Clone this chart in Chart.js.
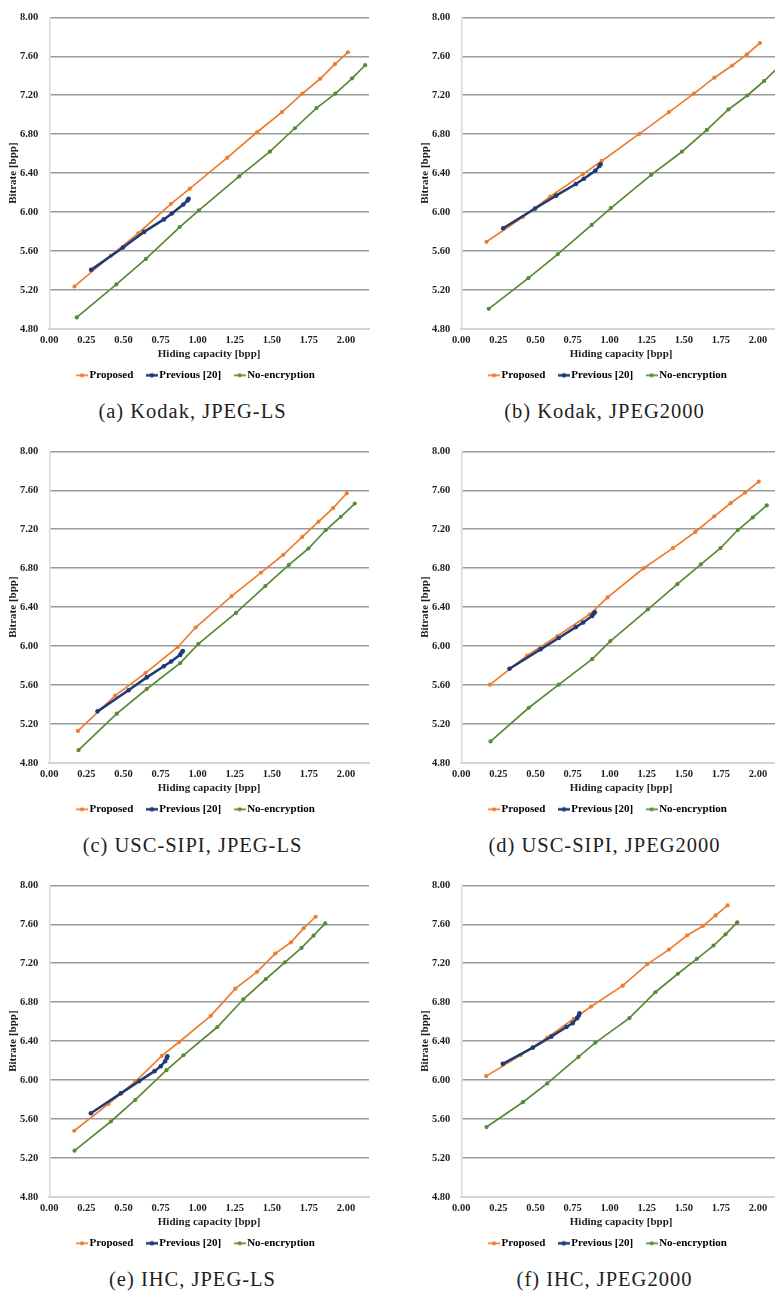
<!DOCTYPE html>
<html><head><meta charset="utf-8">
<script src="https://cdn.jsdelivr.net/npm/chart.js@4.4.0/dist/chart.umd.min.js"></script>
<style>
html,body{margin:0;padding:0;background:#fff;}
body{width:775px;height:1291px;overflow:hidden;position:relative;}
.panel{position:absolute;width:385px;height:391px;}
.cap{position:absolute;width:385px;text-align:center;font-family:'Liberation Serif','Times New Roman',serif;font-size:20.5px;letter-spacing:1px;color:#1e1e1e;line-height:24px;white-space:nowrap;}
</style></head><body>
<script>
// ---- tick labels ----
const xTickValues = [0, 0.25, 0.5, 0.75, 1.0, 1.25, 1.5, 1.75, 2.0];
const yTickValues = [4.8, 5.2, 5.6, 6.0, 6.4, 6.8, 7.2, 7.6, 8.0];
const seriesNames = ['Proposed', 'Previous [20]', 'No-encryption'];

// ---- hiding capacity [bpp] (x) ----
const kodakCapProposed = [0.17, 0.415, 0.60, 0.82, 0.947, 1.20, 1.40, 1.568, 1.706, 1.826, 1.925, 2.013];
const kodakCapPrevious = [0.282, 0.497, 0.639, 0.772, 0.826, 0.903, 0.932, 0.939];
const kodakCapNoEnc    = [0.185, 0.452, 0.651, 0.879, 1.008, 1.28, 1.487, 1.655, 1.801, 1.928, 2.041, 2.129];

const uscCapProposed = [0.193, 0.444, 0.648, 0.866, 0.986, 1.229, 1.427, 1.577, 1.705, 1.815, 1.913, 2.005];
const uscCapPrevious = [0.325, 0.534, 0.657, 0.772, 0.821, 0.882, 0.893, 0.900];
const uscCapNoEnc    = [0.197, 0.455, 0.657, 0.882, 1.005, 1.258, 1.456, 1.615, 1.747, 1.864, 1.965, 2.059];

const ihcCapProposed = [0.168, 0.399, 0.579, 0.758, 0.875, 1.088, 1.254, 1.400, 1.523, 1.629, 1.714, 1.795];
const ihcCapPrevious = [0.280, 0.482, 0.606, 0.709, 0.751, 0.781, 0.792, 0.796];
const ihcCapNoEnc    = [0.170, 0.415, 0.579, 0.790, 0.904, 1.133, 1.308, 1.460, 1.588, 1.700, 1.781, 1.860];

// ---- bitrate [bpp] (y) ----
const kodakLsProposed = [5.237, 5.553, 5.783, 6.085, 6.241, 6.559, 6.820, 7.027, 7.217, 7.369, 7.519, 7.641];
const kodakLsPrevious = [5.407, 5.637, 5.797, 5.925, 5.986, 6.078, 6.119, 6.136];
const kodakLsNoEnc    = [4.919, 5.258, 5.519, 5.847, 6.017, 6.366, 6.620, 6.861, 7.068, 7.217, 7.373, 7.508];

const kodakJ2kProposed = [5.695, 5.95, 6.16, 6.390, 6.525, 6.803, 7.027, 7.217, 7.380, 7.505, 7.620, 7.736];
const kodakJ2kPrevious = [5.834, 6.037, 6.169, 6.288, 6.342, 6.424, 6.475, 6.492];
const kodakJ2kNoEnc    = [5.007, 5.322, 5.569, 5.868, 6.041, 6.383, 6.620, 6.844, 7.054, 7.197, 7.346, 7.475];

const uscLsProposed = [5.129, 5.492, 5.723, 5.991, 6.191, 6.514, 6.755, 6.938, 7.121, 7.277, 7.416, 7.569];
const uscLsPrevious = [5.330, 5.547, 5.679, 5.794, 5.842, 5.910, 5.937, 5.950];
const uscLsNoEnc    = [4.932, 5.306, 5.560, 5.825, 6.022, 6.341, 6.616, 6.833, 7.002, 7.192, 7.328, 7.464];

const uscJ2kProposed = [5.604, 5.903, 6.103, 6.327, 6.500, 6.799, 7.006, 7.172, 7.332, 7.467, 7.576, 7.688];
const uscJ2kPrevious = [5.767, 5.967, 6.083, 6.195, 6.242, 6.310, 6.334, 6.347];
const uscJ2kNoEnc    = [5.021, 5.367, 5.604, 5.866, 6.052, 6.378, 6.636, 6.840, 7.006, 7.192, 7.321, 7.444];

const ihcLsProposed = [5.480, 5.756, 5.983, 6.249, 6.391, 6.660, 6.939, 7.112, 7.299, 7.415, 7.558, 7.677];
const ihcLsPrevious = [5.660, 5.864, 5.990, 6.092, 6.143, 6.194, 6.228, 6.245];
const ihcLsNoEnc    = [5.276, 5.575, 5.796, 6.102, 6.255, 6.545, 6.830, 7.038, 7.208, 7.357, 7.483, 7.609];

const ihcJ2kProposed = [6.041, 6.255, 6.436, 6.630, 6.755, 6.970, 7.191, 7.340, 7.487, 7.582, 7.691, 7.793];
const ihcJ2kPrevious = [6.167, 6.334, 6.446, 6.545, 6.585, 6.636, 6.664, 6.687];
const ihcJ2kNoEnc    = [5.518, 5.773, 5.966, 6.238, 6.385, 6.636, 6.902, 7.092, 7.245, 7.381, 7.497, 7.619];

const captions = ['(a) Kodak, JPEG-LS', '(b) Kodak, JPEG2000', '(c) USC-SIPI, JPEG-LS',
                  '(d) USC-SIPI, JPEG2000', '(e) IHC, JPEG-LS', '(f) IHC, JPEG2000'];

// ---- styling / layout ----
const COLORS = ['#ED7D31', '#203A74', '#588A38'];
const LINE_W = [1.7, 2.5, 1.7];
const PT_R = [2.1, 2.3, 2.1];
const ORDER = [1, 0, 2];
const FONT = "'Liberation Serif','Times New Roman',serif";

const panels = [
  {left: 0,   top: 0,   xs: [kodakCapProposed, kodakCapPrevious, kodakCapNoEnc], ys: [kodakLsProposed, kodakLsPrevious, kodakLsNoEnc]},
  {left: 412, top: 0,   xs: [kodakCapProposed, kodakCapPrevious, kodakCapNoEnc], ys: [kodakJ2kProposed, kodakJ2kPrevious, kodakJ2kNoEnc]},
  {left: 0,   top: 434, xs: [uscCapProposed, uscCapPrevious, uscCapNoEnc], ys: [uscLsProposed, uscLsPrevious, uscLsNoEnc]},
  {left: 412, top: 434, xs: [uscCapProposed, uscCapPrevious, uscCapNoEnc], ys: [uscJ2kProposed, uscJ2kPrevious, uscJ2kNoEnc]},
  {left: 0,   top: 868, xs: [ihcCapProposed, ihcCapPrevious, ihcCapNoEnc], ys: [ihcLsProposed, ihcLsPrevious, ihcLsNoEnc]},
  {left: 412, top: 868, xs: [ihcCapProposed, ihcCapPrevious, ihcCapNoEnc], ys: [ihcJ2kProposed, ihcJ2kPrevious, ihcJ2kNoEnc]}
];

function makeIcon(color, lw, r) {
  const c = document.createElement('canvas');
  c.width = 12; c.height = 7;
  const g = c.getContext('2d');
  g.strokeStyle = color; g.lineWidth = lw;
  g.beginPath(); g.moveTo(0, 3.5); g.lineTo(12, 3.5); g.stroke();
  g.fillStyle = color;
  g.beginPath(); g.arc(6, 3.5, r, 0, Math.PI * 2); g.fill();
  return c;
}
const icons = COLORS.map((c, i) => makeIcon(c, LINE_W[i], PT_R[i]));

// shift the legend so it is centred on the whole panel like the original
const legendShift = {
  id: 'legendShift',
  afterLayout(chart) {
    if (chart.legend) { chart.legend.left += 13; chart.legend.right += 13; }
  }
};

panels.forEach((p, idx) => {
  const div = document.createElement('div');
  div.className = 'panel';
  div.style.left = p.left + 'px';
  div.style.top = p.top + 'px';
  const cv = document.createElement('canvas');
  cv.width = 385; cv.height = 391;
  div.appendChild(cv);
  document.body.appendChild(div);

  const cap = document.createElement('div');
  cap.className = 'cap';
  cap.textContent = captions[idx];
  cap.style.left = p.left + 'px';
  cap.style.top = (p.top + 410.5 - 12) + 'px';
  document.body.appendChild(cap);

  const datasets = seriesNames.map((name, i) => ({
    label: name,
    data: p.xs[i].map((x, k) => ({x: x, y: p.ys[i][k]})),
    borderColor: COLORS[i],
    backgroundColor: COLORS[i],
    borderWidth: LINE_W[i],
    pointRadius: PT_R[i],
    pointBorderWidth: 0,
    pointBackgroundColor: COLORS[i],
    tension: 0,
    order: ORDER[i],
    showLine: true
  }));

  new Chart(cv, {
    type: 'line',
    data: {datasets},
    plugins: [legendShift],
    options: {
      responsive: false,
      animation: false,
      devicePixelRatio: 1,
      layout: {padding: {top: 14.3, left: 0, right: 16, bottom: 0.2}},
      plugins: {
        tooltip: {enabled: false},
        legend: {
          position: 'bottom',
          labels: {
            usePointStyle: true,
            pointStyleWidth: 4,
            padding: 16.5,
            color: '#1e1e1e',
            font: {family: FONT, size: 11, weight: 'bold'},
            generateLabels: (chart) => chart.data.datasets.map((d, i) => ({
              text: d.label, fillStyle: COLORS[i], strokeStyle: COLORS[i],
              lineWidth: 0, pointStyle: icons[i], datasetIndex: i, hidden: false
            }))
          }
        }
      },
      scales: {
        x: {
          type: 'linear',
          min: 0, max: 2.155,
          afterBuildTicks: (s) => { s.ticks = xTickValues.map(v => ({value: v})); },
          afterFit: (s) => { s.height = 24.3; },
          grid: {display: false, drawTicks: false},
          border: {display: true, color: '#D4D4D4', width: 2},
          ticks: {
            padding: 5.4, maxRotation: 0, autoSkip: false,
            color: '#1e1e1e',
            font: {family: FONT, size: 10.5, weight: 'bold'},
            callback: (v) => Number(v).toFixed(2)
          },
          title: {
            display: true, text: 'Hiding capacity [bpp]', color: '#1e1e1e',
            font: {family: FONT, size: 11, weight: 'bold'},
            padding: {top: 0, bottom: -7.6}
          }
        },
        y: {
          type: 'linear',
          min: 4.8, max: 8.0,
          afterBuildTicks: (s) => { s.ticks = yTickValues.map(v => ({value: v})); },
          afterFit: (s) => { s.width = 49.3; },
          grid: {
            drawTicks: false,
            color: (c) => (c.tick && Math.abs(c.tick.value - 4.8) < 1e-6) ? '#D4D4D4' : '#999999',
            lineWidth: (c) => (c.tick && Math.abs(c.tick.value - 4.8) < 1e-6) ? 2 : 1.5
          },
          border: {display: true, color: '#D9D9D9', width: 1.5},
          ticks: {
            padding: 11, autoSkip: false,
            color: '#1e1e1e',
            font: {family: FONT, size: 10.5, weight: 'bold'},
            callback: (v) => Number(v).toFixed(2)
          },
          title: {
            display: true, text: 'Bitrate [bpp]', color: '#1e1e1e',
            font: {family: FONT, size: 11, weight: 'bold'},
            padding: {top: 6.7, bottom: 0}
          }
        }
      }
    }
  });
});
</script>
</body></html>
